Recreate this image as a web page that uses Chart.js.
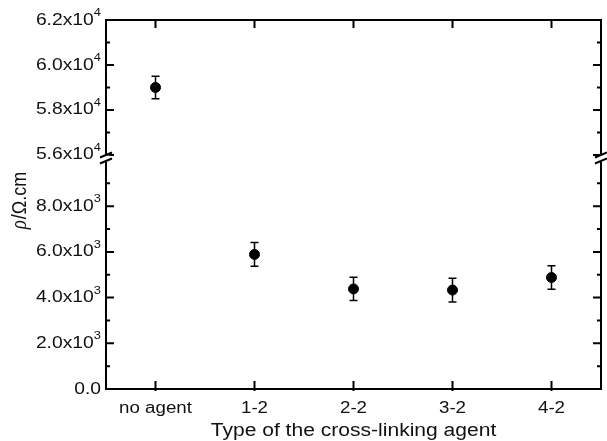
<!DOCTYPE html>
<html>
<head>
<script src="https://cdn.jsdelivr.net/npm/chart.js@4.4.0/dist/chart.umd.min.js"></script>
<style>
  body { margin: 0; background: #fff; }
  #wrap { width: 607px; height: 441px; }
</style>
</head>
<body>
<div id="wrap"><canvas id="rhoChart"></canvas></div>

<script>
// categories and measured resistivities (ohm.cm)
var agents = ["no agent", "1-2", "2-2", "3-2", "4-2"];
var rhoHigh = [59000, null, null, null, null];
var rhoLow = [null, 5890, 4380, 4330, 4880];
var rhoErr = [500, 520, 510, 520, 510];

// broken y axis: upper and lower segments, label = [mantissa, exponent]
var upperTicks = [56000, 58000, 60000, 62000];
var upperTickLabels = [["5.6x10", "4"], ["5.8x10", "4"], ["6.0x10", "4"], ["6.2x10", "4"]];
var lowerTicks = [0, 2000, 4000, 6000, 8000];
var lowerTickLabels = [["0.0", ""], ["2.0x10", "3"], ["4.0x10", "3"], ["6.0x10", "3"], ["8.0x10", "3"]];

var xTitle = "Type of the cross-linking agent";
var sans = "Liberation Sans, Arial, sans-serif";
var stretch = 1.17;   // the original figure is a bit wider than tall

// text a little wider than the font, like the source picture
function wideText(ctx, txt, x, y, font, align) {
	ctx.save();
	ctx.font = font;
	var w = ctx.measureText(txt).width * stretch;
	var sx = align === "right" ? x - w : align === "center" ? x - w / 2 : x;
	ctx.translate(sx, y);
	ctx.scale(stretch, 1);
	ctx.textAlign = "left";
	ctx.fillText(txt, 0, 0);
	ctx.restore();
	return w;
}

var decorations = {
	id: "decorations",
	afterDatasetsDraw: function(chart) {
		var ctx = chart.ctx;
		var a = chart.chartArea;
		var x = chart.scales.x;
		var yHi = chart.scales.yHi;
		var yLo = chart.scales.yLo;
		ctx.save();
		ctx.strokeStyle = "#000";
		ctx.fillStyle = "#111";

		// error bars
		ctx.lineWidth = 1.5;
		chart.data.datasets.forEach(function(ds) {
			var sc = chart.scales[ds.yAxisID];
			ds.data.forEach(function(v, i) {
				if (v == null) return;
				var px = x.getPixelForValue(i);
				var top = sc.getPixelForValue(v + rhoErr[i]);
				var bot = sc.getPixelForValue(v - rhoErr[i]);
				ctx.beginPath();
				ctx.moveTo(px, top); ctx.lineTo(px, bot);
				ctx.moveTo(px - 4, top); ctx.lineTo(px + 4, top);
				ctx.moveTo(px - 4, bot); ctx.lineTo(px + 4, bot);
				ctx.stroke();
			});
		});

		ctx.lineWidth = 2;
		// frame top and right
		ctx.beginPath();
		ctx.moveTo(a.left, a.top); ctx.lineTo(a.right, a.top);
		ctx.lineTo(a.right, a.bottom);
		ctx.stroke();

		// x ticks, bottom and top, plus labels
		ctx.beginPath();
		agents.forEach(function(c, i) {
			var px = x.getPixelForValue(i);
			ctx.moveTo(px, a.bottom + 2); ctx.lineTo(px, a.bottom - 8);
			ctx.moveTo(px, a.top); ctx.lineTo(px, a.top + 8);
		});
		ctx.stroke();
		ctx.textBaseline = "middle";
		agents.forEach(function(c, i) {
			wideText(ctx, c, x.getPixelForValue(i), a.bottom + 20, "16px " + sans, "center");
		});
		wideText(ctx, xTitle, (a.left + a.right) / 2, a.bottom + 42, "18px " + sans, "center");

		// y ticks, left and right, plus labels
		function yTicks(sc, majors, labels, minors) {
			ctx.beginPath();
			majors.forEach(function(v) {
				var py = sc.getPixelForValue(v);
				ctx.moveTo(a.left, py); ctx.lineTo(a.left + 8, py);
				ctx.moveTo(a.right, py); ctx.lineTo(a.right - 8, py);
			});
			minors.forEach(function(v) {
				var py = sc.getPixelForValue(v);
				ctx.moveTo(a.left, py); ctx.lineTo(a.left + 4, py);
				ctx.moveTo(a.right, py); ctx.lineTo(a.right - 4, py);
			});
			ctx.stroke();
			majors.forEach(function(v, i) {
				var py = sc.getPixelForValue(v);
				var right = a.left - 5;
				var ew = 0;
				if (labels[i][1]) {
					ctx.font = "11px " + sans;
					ew = ctx.measureText(labels[i][1]).width * stretch;
					wideText(ctx, labels[i][1], right, py - 7, "11px " + sans, "right");
				}
				wideText(ctx, labels[i][0], right - ew, py, "16.5px " + sans, "right");
			});
		}
		yTicks(yHi, upperTicks, upperTickLabels, [57000, 59000, 61000]);
		yTicks(yLo, lowerTicks, lowerTickLabels, [1000, 3000, 5000, 7000, 9000]);

		// break marks
		var yb = yLo.top - 2;
		[a.left, a.right].forEach(function(bx) {
			ctx.fillStyle = "#fff";
			ctx.fillRect(bx - 3, yb - 3, 6, 6);
			ctx.beginPath();
			ctx.moveTo(bx - 6, yb - 1); ctx.lineTo(bx + 6, yb - 6);
			ctx.moveTo(bx - 6, yb + 5); ctx.lineTo(bx + 6, yb);
			ctx.stroke();
		});

		// y axis title, rotated
		ctx.fillStyle = "#111";
		ctx.translate(20, (a.top + a.bottom) / 2 - 4);
		ctx.rotate(-Math.PI / 2);
		ctx.scale(1, stretch);
		ctx.textBaseline = "middle";
		var fItal = "italic 19px Liberation Serif, serif";
		var fReg = "18px " + sans;
		ctx.font = fItal;
		var w1 = ctx.measureText("\u03c1").width;
		ctx.font = fReg;
		var w2 = ctx.measureText("/\u03a9.cm").width;
		var sx = -(w1 + w2 + 1) / 2;
		ctx.font = fItal;
		ctx.fillText("\u03c1", sx, 0);
		ctx.font = fReg;
		ctx.fillText("/\u03a9.cm", sx + w1 + 1, 0);
		ctx.restore();
	}
};

new Chart("rhoChart", {
	type: "line",
	data: {
		labels: agents,
		datasets: [
			{ data: rhoHigh, yAxisID: "yHi", showLine: false, pointRadius: 5, pointHoverRadius: 5,
			  pointBackgroundColor: "#000", pointBorderColor: "#000" },
			{ data: rhoLow, yAxisID: "yLo", showLine: false, pointRadius: 5, pointHoverRadius: 5,
			  pointBackgroundColor: "#000", pointBorderColor: "#000" }
		]
	},
	options: {
		responsive: true,
		maintainAspectRatio: false,
		animation: false,
		layout: { padding: { left: 106, right: -7, top: 20, bottom: 52 } },
		plugins: { legend: { display: false }, tooltip: { enabled: false } },
		scales: {
			x: {
				offset: true,
				grid: { display: false, drawTicks: false },
				border: { color: "#000", width: 2 },
				ticks: { display: false }
			},
			yLo: {
				position: "left",
				stack: "rho",
				stackWeight: 1,
				min: 0,
				max: 10000,
				grid: { display: false, drawTicks: false },
				border: { color: "#000", width: 2 },
				ticks: { display: false }
			},
			yHi: {
				position: "left",
				stack: "rho",
				stackWeight: 0.615,
				min: 55750,
				max: 62000,
				grid: { display: false, drawTicks: false },
				border: { color: "#000", width: 2 },
				ticks: { display: false }
			}
		}
	},
	plugins: [decorations]
});
</script>
</body>
</html>
